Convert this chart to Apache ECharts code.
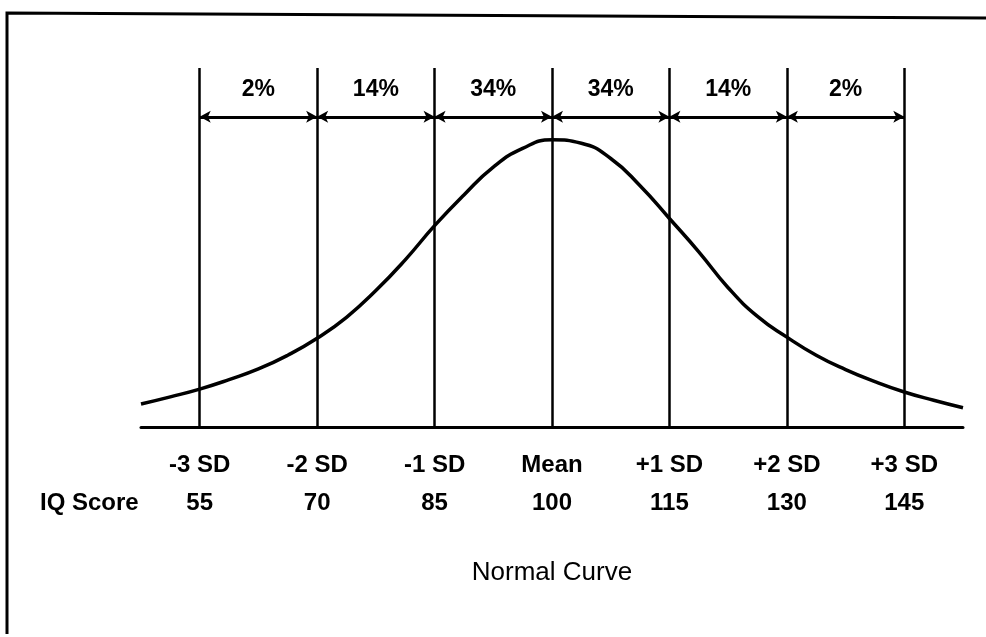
<!DOCTYPE html>
<html>
<head>
<meta charset="utf-8">
<script src="https://cdn.jsdelivr.net/npm/echarts@6/dist/echarts.min.js"></script>
<style>
  html, body { margin: 0; padding: 0; background: #fff; }
  #main { width: 986px; height: 637px; }
</style>
</head>
<body>
<div id="main"></div>
<script>
// positions in SD units, curve height in % of the peak
var sdPositions = [-3, -2, -1, 0, 1, 2, 3];
var sdLabels = ['-3 SD', '-2 SD', '-1 SD', 'Mean', '+1 SD', '+2 SD', '+3 SD'];
var iqScores = [55, 70, 85, 100, 115, 130, 145];
var pctLabels = ['2%', '14%', '34%', '34%', '14%', '2%'];

var curveX = [-3.5, -3.25, -3.0, -2.75, -2.5, -2.25, -2.0, -1.75, -1.5, -1.25, -1.0, -0.75, -0.5, -0.25, 0,
              0.25, 0.5, 0.75, 1.0, 1.25, 1.5, 1.75, 2.0, 2.25, 2.5, 2.75, 3.0, 3.25, 3.5];
var curveY = [8.0, 10.5, 13.2, 16.5, 20.2, 25.0, 30.9, 38.2, 47.5, 58.2, 70.1, 80.8, 90.5, 97.0, 100,
              98.8, 93.5, 84.0, 72.6, 61.0, 48.5, 38.5, 31.3, 25.0, 20.0, 15.8, 12.2, 9.3, 6.7];

var arrowLevel = 108;
var pctLevel = 117.4;

var chart = echarts.init(document.getElementById('main'));

var curveData = curveX.map(function (x, i) { return [x, curveY[i]]; });

// 百分比标签放在两条竖线中间
var pctData = pctLabels.map(function (t, i) {
    return { value: [(sdPositions[i] + sdPositions[i + 1]) / 2, pctLevel], name: t };
});

var arrowData = [];
for (var i = 0; i < sdPositions.length - 1; i++) {
    arrowData.push([{ coord: [sdPositions[i], arrowLevel] }, { coord: [sdPositions[i + 1], arrowLevel] }]);
}

var boldFont = '"Liberation Sans", Arial, sans-serif';

var option = {
    animation: false,
    backgroundColor: '#fff',
    grid: { left: 141, right: 23, top: 68, bottom: 210 },
    xAxis: {
        type: 'value',
        min: -3.5,
        max: 3.5,
        splitLine: { show: false },
        axisTick: { show: false },
        axisLine: { lineStyle: { color: '#000', width: 3 } },
        axisLabel: {
            customValues: sdPositions,
            margin: 19,
            formatter: function (v) {
                var k = sdPositions.indexOf(v);
                return '{sd|' + sdLabels[k] + '}\n{iq|' + iqScores[k] + '}';
            },
            rich: {
                sd: { fontSize: 24, fontWeight: 'bold', fontFamily: boldFont, color: '#000', lineHeight: 38 },
                iq: { fontSize: 24, fontWeight: 'bold', fontFamily: boldFont, color: '#000', lineHeight: 38 }
            }
        }
    },
    yAxis: {
        type: 'value',
        min: 0,
        max: 125,
        show: false
    },
    series: [
        {
            type: 'line',
            data: curveData,
            smooth: 0.5,
            showSymbol: false,
            symbol: 'none',
            lineStyle: { color: '#000', width: 3.5 },
            z: 3,
            markLine: {
                silent: true,
                symbol: 'none',
                label: { show: false },
                lineStyle: { color: '#000', width: 2.5, type: 'solid' },
                data: sdPositions.map(function (v) { return { xAxis: v }; })
            }
        },
        {
            type: 'line',
            data: [],
            markLine: {
                silent: true,
                symbol: ['arrow', 'arrow'],
                symbolSize: [9, 11],
                label: { show: false },
                lineStyle: { color: '#000', width: 3, type: 'solid' },
                data: arrowData
            }
        },
        {
            type: 'scatter',
            data: pctData,
            symbolSize: 1,
            silent: true,
            itemStyle: { opacity: 1, color: 'rgba(0,0,0,0)' },
            label: {
                show: true,
                position: 'inside',
                formatter: function (p) { return p.name; },
                fontSize: 23,
                fontWeight: 'bold',
                fontFamily: boldFont,
                color: '#000'
            }
        }
    ],
    graphic: [
        {
            type: 'polyline',
            shape: { points: [[7, 634], [7, 13], [986, 18]] },
            style: { stroke: '#000', lineWidth: 3, fill: null }
        },
        {
            type: 'text',
            left: 40,
            top: 491,
            style: { text: 'IQ Score', fontSize: 24, fontWeight: 'bold', fontFamily: boldFont, fill: '#000' }
        },
        {
            type: 'text',
            x: 552,
            y: 573,
            style: {
                text: 'Normal Curve', fontSize: 26, fontFamily: boldFont, fill: '#000',
                textAlign: 'center', textVerticalAlign: 'middle'
            }
        }
    ]
};

chart.setOption(option);
</script>
</body>
</html>
